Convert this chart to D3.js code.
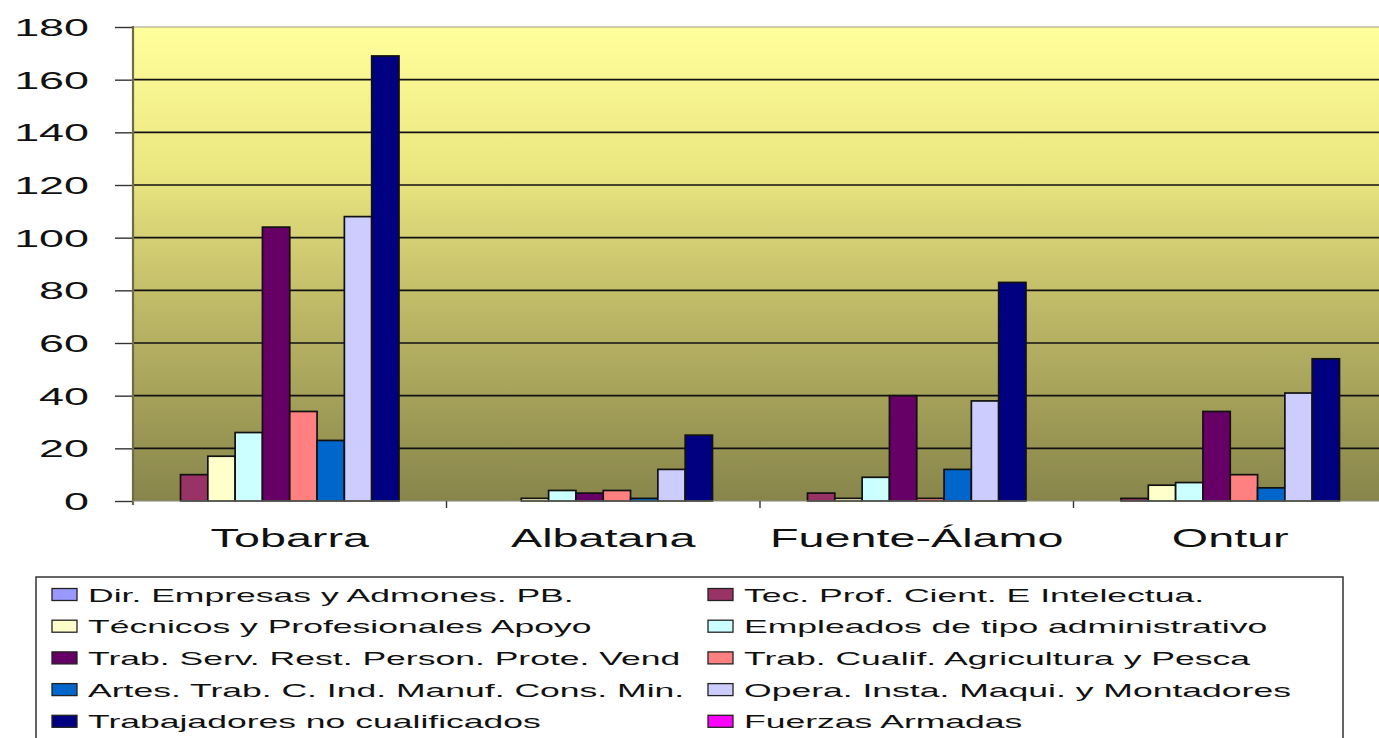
<!DOCTYPE html>
<html><head><meta charset="utf-8">
<script src="https://cdn.jsdelivr.net/npm/d3@7"></script>
<style>
body{margin:0;background:#fff;}
svg{display:block;}
text{font-family:"Liberation Sans",Arial,sans-serif;fill:#111;}
</style>
</head><body>
<svg id="c" width="1379" height="738"></svg>
<script>
// ---- data ----
const categories = ["Tobarra", "Albatana", "Fuente-Álamo", "Ontur"];
const seriesNames = [
  "Dir. Empresas y Admones. PB.",
  "Tec. Prof. Cient. E Intelectua.",
  "Técnicos y Profesionales Apoyo",
  "Empleados de tipo administrativo",
  "Trab. Serv. Rest. Person. Prote. Vend",
  "Trab. Cualif. Agricultura y Pesca",
  "Artes. Trab. C. Ind. Manuf. Cons. Min.",
  "Opera. Insta. Maqui. y Montadores",
  "Trabajadores no cualificados",
  "Fuerzas Armadas"
];
const dirEmpresas   = [0, 0, 0, 0];
const tecProf       = [10, 0, 3, 1];
const tecnicosApoyo = [17, 1, 1, 6];
const empleadosAdm  = [26, 4, 9, 7];
const trabServ      = [104, 3, 40, 34];
const trabCualif    = [34, 4, 1, 10];
const artesTrab     = [23, 1, 12, 5];
const operaInsta    = [108, 12, 38, 41];
const trabNoCualif  = [169, 25, 83, 54];
const fuerzasArm    = [0, 0, 0, 0];
const seriesColors = ["#9999FF","#993366","#FFFFCC","#CCFFFF","#660066","#FF8080","#0066CC","#CCCCFF","#000080","#FF00FF"];
const yTicks = [0, 20, 40, 60, 80, 100, 120, 140, 160, 180];

const seriesValues = [dirEmpresas, tecProf, tecnicosApoyo, empleadosAdm, trabServ,
                      trabCualif, artesTrab, operaInsta, trabNoCualif, fuerzasArm];

// ---- layout ----
const SX = 1.87; // horizontal stretch of the original picture's text
const svg = d3.select("#c");
const pLeft = 133, pRight = 1387, pTop = 27, pBottom = 501;

const x0 = d3.scaleBand().domain(categories).range([pLeft, pRight]).paddingInner(0).paddingOuter(0);
const x1 = d3.scaleBand().domain(seriesNames).range([0, x0.bandwidth()]).paddingInner(0).paddingOuter(0.74);
const y = d3.scaleLinear().domain([0, 180]).range([pBottom, pTop]);

// background gradient
const defs = svg.append("defs");
const grad = defs.append("linearGradient").attr("id", "bg").attr("x1", 0).attr("y1", 0).attr("x2", 0).attr("y2", 1);
[[0, "#ffff9c"], [0.3, "#ebe781"], [0.6, "#bdb866"], [1, "#87854b"]].forEach(([o, c]) =>
  grad.append("stop").attr("offset", o).attr("stop-color", c));
svg.append("rect").attr("x", pLeft).attr("y", pTop).attr("width", pRight - pLeft).attr("height", pBottom - pTop)
  .attr("fill", "url(#bg)");

// gridlines
svg.append("g").selectAll("line").data(yTicks.filter(d => d > 0 && d < 180)).join("line")
  .attr("x1", pLeft).attr("x2", pRight).attr("y1", d => y(d)).attr("y2", d => y(d))
  .attr("stroke", "#111").attr("stroke-width", 1.7);
svg.append("line").attr("x1", pLeft).attr("x2", pRight).attr("y1", y(180)).attr("y2", y(180))
  .attr("stroke", "#9a9a8a").attr("stroke-width", 1.2);

// bars
const barG = svg.append("g");
categories.forEach((cat, ci) => {
  seriesNames.forEach((s, si) => {
    const v = seriesValues[si][ci];
    if (v <= 0) return;
    barG.append("rect")
      .attr("x", x0(cat) + x1(s)).attr("y", y(v))
      .attr("width", x1.bandwidth()).attr("height", y(0) - y(v))
      .attr("fill", seriesColors[si]).attr("stroke", "#111").attr("stroke-width", 1.7);
  });
});

// y axis
const yAxis = d3.axisLeft(y).tickValues(yTicks).tickSize(18).tickPadding(0).tickFormat(d3.format("d"));
const ya = svg.append("g").attr("transform", `translate(${pLeft},0)`).call(yAxis);
ya.select(".domain").remove();
ya.selectAll(".tick line").attr("stroke", "#333").attr("stroke-width", 1.4);
ya.selectAll(".tick text").attr("x", 0).attr("dy", 0).attr("dominant-baseline", "central")
  .attr("text-anchor", "end").attr("font-size", 24).attr("fill", "#111")
  .attr("transform", `translate(${89 - pLeft},0) scale(${SX},1)`);
svg.append("line").attr("x1", pLeft).attr("x2", pLeft).attr("y1", pTop - 1).attr("y2", pBottom + 4)
  .attr("stroke", "#6e6c48").attr("stroke-width", 2.2);

// x axis
svg.append("line").attr("x1", pLeft).attr("x2", pRight).attr("y1", pBottom).attr("y2", pBottom)
  .attr("stroke", "#8a8a80").attr("stroke-width", 1);
const xa = svg.append("g");
d3.range(1, categories.length).forEach(i => {
  const xx = x0(categories[i]);
  xa.append("line").attr("x1", xx).attr("x2", xx).attr("y1", pBottom).attr("y2", pBottom + 7)
    .attr("stroke", "#333").attr("stroke-width", 1.4);
});
xa.selectAll("text").data(categories).join("text")
  .attr("transform", d => `translate(${x0(d) + x0.bandwidth() / 2},547) scale(${SX},1)`)
  .attr("text-anchor", "middle").attr("font-size", 25).text(d => d);

// legend
const lg = svg.append("g");
const lgLeft = 36, lgRight = 1343, lgTop = 577;
lg.append("rect").attr("x", lgLeft).attr("y", lgTop).attr("width", lgRight - lgLeft).attr("height", 738 - lgTop + 5)
  .attr("fill", "#fff").attr("stroke", "#333").attr("stroke-width", 1.5);
const colX = [88, 744];
seriesNames.forEach((s, i) => {
  const tx = colX[i % 2], cy = 595 + Math.floor(i / 2) * 31.7;
  lg.append("rect").attr("x", tx - 36).attr("y", cy - 6.5).attr("width", 25).attr("height", 12)
    .attr("fill", seriesColors[i]).attr("stroke", "#222").attr("stroke-width", 1.3);
  lg.append("text").attr("transform", `translate(${tx},${cy}) scale(${SX},1)`)
    .attr("dominant-baseline", "central").attr("font-size", 19).text(s);
});
</script>
</body></html>
